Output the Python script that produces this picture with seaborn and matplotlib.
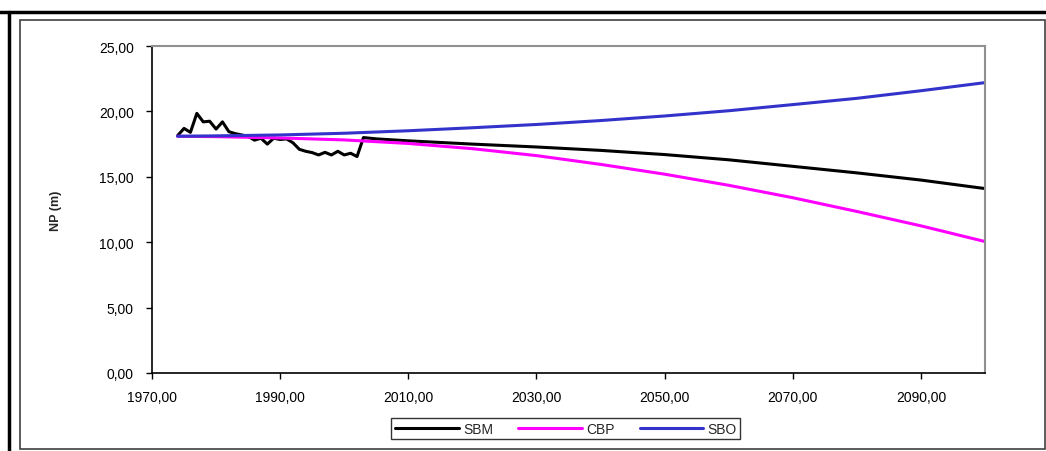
import matplotlib
matplotlib.use("Agg")
import matplotlib.pyplot as plt
from matplotlib.ticker import FuncFormatter
from matplotlib.lines import Line2D
from matplotlib.patches import Rectangle
import seaborn as sns

# SBM: observed levels (yearly) then projection
sbm_years = [1974, 1975, 1976, 1977, 1978, 1979, 1980, 1981, 1982, 1983,
             1984, 1985, 1986, 1987, 1988, 1989, 1990, 1991, 1992, 1993,
             1994, 1995, 1996, 1997, 1998, 1999, 2000, 2001, 2002, 2003,
             2005, 2010, 2020, 2030, 2040, 2050, 2060, 2070, 2080, 2090, 2100]
sbm_vals = [18.15, 18.70, 18.40, 19.85, 19.20, 19.25, 18.65, 19.20, 18.45, 18.30,
            18.20, 18.10, 17.80, 17.95, 17.50, 17.95, 17.85, 17.90, 17.60, 17.10,
            16.95, 16.85, 16.67, 16.87, 16.67, 16.95, 16.67, 16.80, 16.55, 18.00,
            17.90, 17.75, 17.50, 17.28, 17.02, 16.70, 16.30, 15.80, 15.30, 14.75, 14.10]

proj_years = [1974, 1980, 1990, 2000, 2010, 2020, 2030, 2040, 2050, 2060,
              2070, 2080, 2090, 2100]
cbp_vals = [18.10, 18.07, 17.97, 17.82, 17.55, 17.15, 16.62, 15.95, 15.20, 14.35,
            13.40, 12.35, 11.25, 10.05]
sbo_vals = [18.10, 18.13, 18.20, 18.33, 18.52, 18.75, 19.00, 19.30, 19.65, 20.05,
            20.52, 21.00, 21.58, 22.20]

sns.set_style("white")
plt.rcParams['font.family'] = ['Liberation Sans', 'DejaVu Sans']

fig = plt.figure(figsize=(10.46, 4.52), dpi=100)
ax = fig.add_axes([0.1453, 0.1726, 0.9417 - 0.1453, 0.896 - 0.1726])

sns.lineplot(x=sbm_years, y=sbm_vals, ax=ax, color='black', lw=2.2, label='SBM', sort=False)
sns.lineplot(x=proj_years, y=cbp_vals, ax=ax, color='#ff00ff', lw=2.2, label='CBP', sort=False)
sns.lineplot(x=proj_years, y=sbo_vals, ax=ax, color='#3333cc', lw=2.2, label='SBO', sort=False)

ax.set_xlim(1970, 2100)
ax.set_ylim(0, 25)
ax.set_xticks(range(1970, 2100, 20))
ax.set_yticks(range(0, 26, 5))
comma = FuncFormatter(lambda v, p: f"{v:.2f}".replace('.', ','))
ax.xaxis.set_major_formatter(comma)
ax.yaxis.set_major_formatter(comma)
ax.tick_params(axis='both', labelsize=10, direction='out', length=4, width=1,
               colors='black', bottom=True, left=True)
ax.tick_params(axis='y', pad=9)
ax.tick_params(axis='x', pad=8)
ax.set_ylabel('NP (m)', fontsize=9, fontweight='bold')
ax.yaxis.set_label_coords(-0.108, 0.5)
ax.set_xlabel('')

for s in ['left', 'bottom']:
    ax.spines[s].set_color('black')
    ax.spines[s].set_linewidth(1.2)
for s in ['top', 'right']:
    ax.spines[s].set_color('#909090')
    ax.spines[s].set_linewidth(1.5)

leg = ax.legend(loc='center', bbox_to_anchor=(0.541, 0.049), bbox_transform=fig.transFigure,
                ncol=3, frameon=True, fancybox=False, fontsize=10, handlelength=4.6,
                columnspacing=1.8, handletextpad=0.3, borderpad=0.25)
leg.get_frame().set_edgecolor('black')
leg.get_frame().set_linewidth(1.0)

# chart area border and page edges
fig.patches.append(Rectangle((20 / 1046, 2 / 452), 1025 / 1046, 429 / 452,
                             transform=fig.transFigure, fill=False,
                             edgecolor='#404040', lw=1.2))
fig.lines.append(Line2D([0, 1], [1 - 13 / 452, 1 - 13 / 452], transform=fig.transFigure,
                        color='black', lw=2.5))
fig.lines.append(Line2D([9 / 1046, 9 / 1046], [0, 1 - 13 / 452], transform=fig.transFigure,
                        color='black', lw=2.5))

fig.savefig('out.png', dpi=100)
